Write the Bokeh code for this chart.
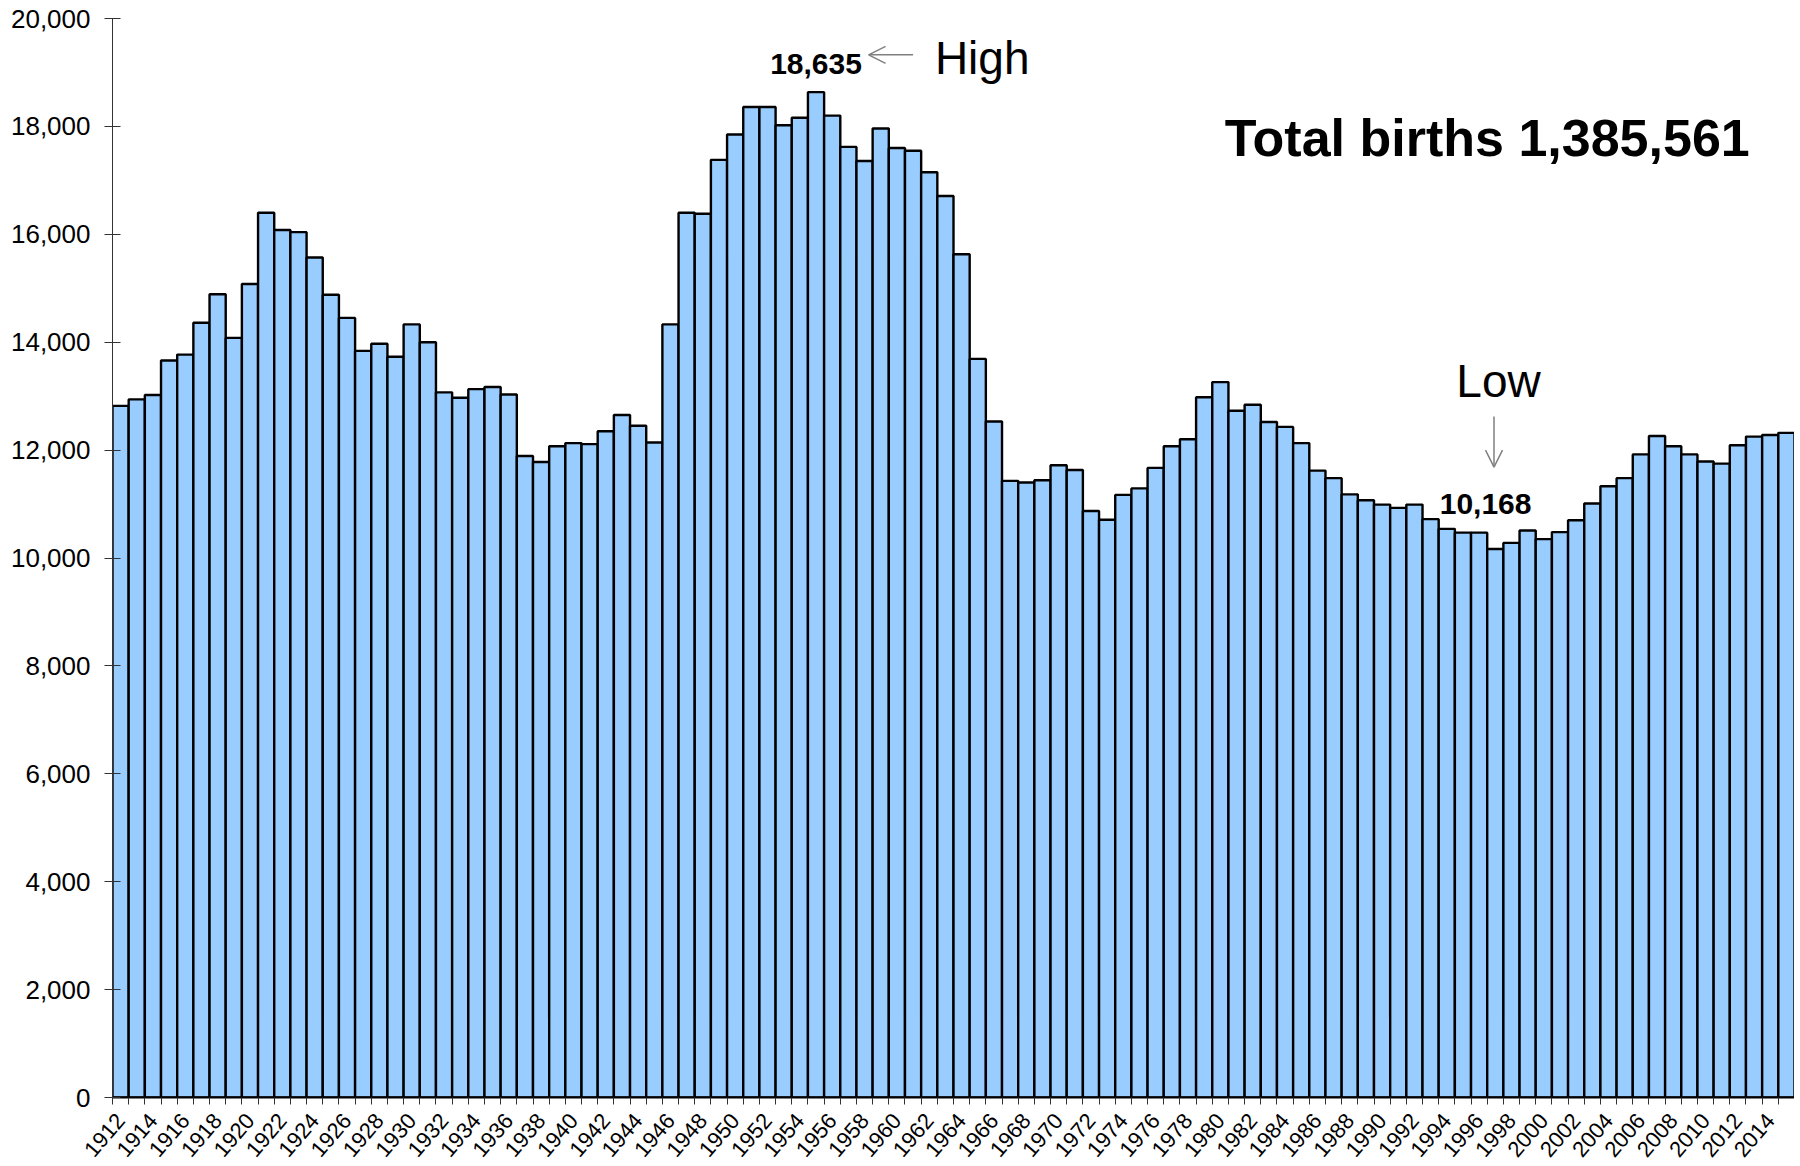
from bokeh.plotting import figure
from bokeh.models import (Range1d, FixedTicker, NumeralTickFormatter, Arrow,
                          OpenHead, Label, ColumnDataSource)
from bokeh.embed import file_html
from bokeh.resources import INLINE

# ---------------- data ----------------
years = list(range(1912, 2016))
births = [
    12820, 12940, 13020, 13660, 13770, 14360, 14890, 14080, 15080, 16400,  # 1912-1921
    16080, 16040, 15570, 14880, 14450, 13840, 13970, 13730, 14330, 14000,  # 1922-1931
    13070, 12970, 13130, 13170, 13030, 11890, 11780, 12070, 12130, 12110,  # 1932-1941
    12350, 12650, 12450, 12140, 14330, 16400, 16380, 17380, 17850, 18360,  # 1942-1951
    18360, 18020, 18160, 18635, 18200, 17620, 17360, 17960, 17600, 17550,  # 1952-1961
    17150, 16710, 15630, 13690, 12530, 11430, 11400, 11440, 11720, 11630,  # 1962-1971
    10870, 10710, 11170, 11290, 11670, 12070, 12200, 12980, 13260, 12730,  # 1972-1981
    12840, 12520, 12430, 12130, 11620, 11480, 11180, 11070, 10990, 10930,  # 1982-1991
    10990, 10720, 10540, 10470, 10470, 10168, 10280, 10510, 10350, 10480,  # 1992-2001
    10700, 11010, 11330, 11480, 11920, 12260, 12070, 11920, 11790, 11750,  # 2002-2011
    12090, 12250, 12280, 12320,                                            # 2012-2015
]
y_ticks = [0, 2000, 4000, 6000, 8000, 10000, 12000, 14000, 16000, 18000, 20000]
x_label_years = list(range(1912, 2016, 2))
total_text = "Total births 1,385,561"
high_word = "High"
low_word = "Low"

FONT = "Liberation Sans"

src = ColumnDataSource(dict(year=years, births=births))

p = figure(width=1794, height=1166, output_backend="svg", toolbar_location=None,
           x_range=Range1d(years[0] - 0.5, years[-1] + 0.5),
           y_range=Range1d(0, 20000),
           min_border_left=112, min_border_right=0, min_border_top=18,
           min_border_bottom=69)
p.outline_line_color = None
p.xgrid.visible = False
p.ygrid.visible = False
p.background_fill_color = "white"
p.border_fill_color = "white"

p.vbar(x="year", top="births", width=1, bottom=0, source=src,
       fill_color="#99CCFF", line_color="black", line_width=2.4)

# y axis
ya = p.yaxis[0]
ya.ticker = FixedTicker(ticks=y_ticks)
ya.formatter = NumeralTickFormatter(format="0,0")
ya.axis_line_color = "#333333"
ya.axis_line_width = 1
ya.major_tick_in = 8
ya.major_tick_out = 8
ya.major_tick_line_color = "#333333"
ya.minor_tick_line_color = None
ya.major_label_text_font = FONT
ya.major_label_text_font_size = "26px"
ya.major_label_text_color = "black"
ya.major_label_standoff = 14

# x axis
xa = p.xaxis[0]
xa.ticker = FixedTicker(ticks=x_label_years,
                        minor_ticks=[y - 0.5 for y in years] + [years[-1] + 0.5])
xa.axis_line_color = "black"
xa.axis_line_width = 2
xa.major_tick_line_color = None
xa.major_tick_in = 0
xa.major_tick_out = 0
xa.minor_tick_in = 0
xa.minor_tick_out = 7
xa.minor_tick_line_color = "#333333"
xa.major_label_orientation = 0.86
xa.major_label_text_font = FONT
xa.major_label_text_font_size = "22px"
xa.major_label_text_color = "black"
xa.major_label_standoff = 12

# annotations derived from data
i_hi = births.index(max(births))
i_lo = births.index(min(births))
hi_year, hi_val = years[i_hi], births[i_hi]
lo_year, lo_val = years[i_lo], births[i_lo]

p.add_layout(Label(x=hi_year, y=hi_val + 513, text=f"{hi_val:,}",
                   text_align="center", text_baseline="alphabetic",
                   text_font=FONT, text_font_style="bold",
                   text_font_size="30px", text_color="black"))
p.add_layout(Arrow(end=OpenHead(size=17, line_color="#808080", line_width=1.5),
                   x_start=hi_year + 6.0, y_start=hi_val + 692,
                   x_end=hi_year + 3.25, y_end=hi_val + 692,
                   line_color="#808080", line_width=1.5))
p.add_layout(Label(x=hi_year + 7.35, y=hi_val + 636, text=high_word,
                   text_align="left", text_baseline="alphabetic",
                   text_font=FONT, text_font_size="46px", text_color="black"))

p.add_layout(Label(x=lo_year - 0.6, y=lo_val + 825, text=f"{lo_val:,}",
                   text_align="center", text_baseline="alphabetic",
                   text_font=FONT, text_font_style="bold",
                   text_font_size="30px", text_color="black"))
p.add_layout(Arrow(end=OpenHead(size=17, line_color="#808080", line_width=1.5),
                   x_start=lo_year - 0.08, y_start=lo_val + 2455,
                   x_end=lo_year - 0.08, y_end=lo_val + 1517,
                   line_color="#808080", line_width=1.5))
p.add_layout(Label(x=lo_year + 0.2, y=lo_val + 3106, text=low_word,
                   text_align="center", text_baseline="alphabetic",
                   text_font=FONT, text_font_size="46px", text_color="black"))

p.add_layout(Label(x=1996.5, y=17791, text=total_text,
                   text_align="center", text_baseline="alphabetic",
                   text_font=FONT, text_font_style="bold",
                   text_font_size="52px", text_color="black"))

open("out.html", "w").write(file_html(p, INLINE))
